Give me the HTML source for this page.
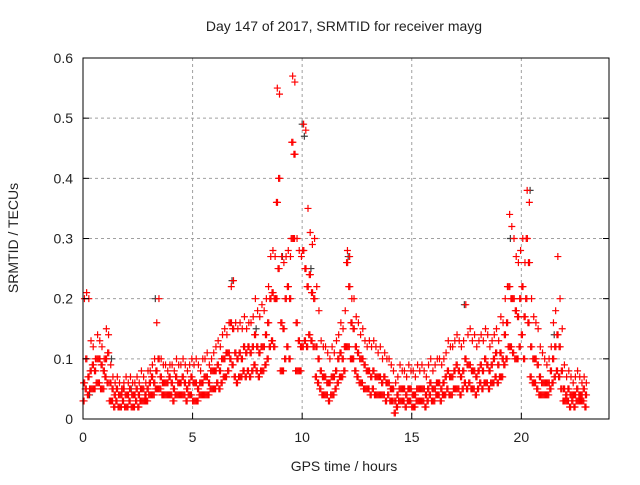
<!DOCTYPE html>
<html><head><meta charset="utf-8"><style>
body{margin:0;background:#fff}
svg text{font-family:"Liberation Sans",sans-serif;font-size:14px;fill:#222}
</style></head><body>
<svg id="chart" width="640" height="480" viewBox="0 0 640 480" xmlns="http://www.w3.org/2000/svg">
<rect width="640" height="480" fill="#fff"/>
<text x="344" y="31" text-anchor="middle">Day 147 of 2017, SRMTID for receiver mayg</text>
<text transform="translate(18,238) rotate(-90)" text-anchor="middle">SRMTID / TECUs</text>
<text x="344" y="471" text-anchor="middle">GPS time / hours</text>
<g id="grid"></g><g id="gray"></g><g id="red"></g><g id="axes"></g>
</svg>
<script>
const xTicks=[0,5,10,15,20];
const yTicks=[0,0.1,0.2,0.3,0.4,0.5,0.6];
const yTickLabels=["0","0.1","0.2","0.3","0.4","0.5","0.6"];
const binStart=0, binStep=0.1;
const hiVals=[.2,.21,.2,.13,.12,.1,.14,.13,.12,.1,
.15,.14,.09,.07,.06,.07,.06,.05,.06,.07,
.06,.07,.06,.06,.07,.06,.08,.07,.06,.08,
.08,.09,.1,.16,.2,.1,.09,.09,.08,.09,
.09,.08,.1,.09,.09,.1,.09,.08,.09,.1,
.09,.1,.09,.08,.1,.1,.11,.09,.1,.11,
.12,.13,.12,.14,.15,.14,.16,.22,.23,.16,
.15,.16,.15,.17,.15,.16,.16,.17,.2,.18,
.17,.19,.18,.2,.22,.27,.28,.27,.55,.54,
.27,.26,.27,.28,.27,.57,.56,.3,.28,.27,
.49,.48,.35,.31,.29,.3,.22,.18,.13,.12,
.12,.11,.1,.12,.11,.13,.14,.16,.15,.18,
.28,.27,.2,.2,.17,.16,.14,.15,.13,.12,
.13,.12,.13,.12,.11,.12,.1,.11,.1,.1,
.09,.08,.06,.07,.09,.08,.08,.07,.09,.08,
.08,.07,.09,.08,.09,.08,.07,.09,.1,.08,
.09,.1,.1,.09,.1,.11,.13,.12,.12,.13,
.14,.13,.12,.13,.19,.14,.15,.13,.14,.12,
.13,.14,.13,.15,.14,.12,.13,.14,.15,.13,
.17,.16,.2,.22,.34,.32,.3,.27,.26,.28,
.3,.26,.38,.36,.2,.17,.16,.15,.12,.11,
.1,.09,.1,.12,.16,.18,.27,.2,.15,.09,
.07,.08,.07,.06,.07,.08,.07,.06,.07,.06];
const midVals=[.06,.1,.07,.08,.09,.08,.1,.1,.09,.08,
.1,.11,.06,.05,.04,.05,.04,.04,.05,.04,
.04,.05,.04,.04,.05,.04,.05,.05,.04,.05,
.06,.07,.06,.08,.1,.07,.06,.06,.06,.07,
.06,.05,.07,.06,.06,.07,.06,.05,.06,.07,
.06,.06,.05,.06,.06,.07,.07,.06,.08,.08,
.08,.09,.08,.1,.1,.11,.11,.16,.15,.11,
.1,.11,.1,.12,.11,.12,.11,.12,.14,.12,
.11,.12,.12,.14,.16,.2,.21,.2,.36,.4,
.16,.15,.2,.22,.2,.46,.44,.16,.13,.12,
.28,.25,.22,.24,.21,.2,.12,.1,.08,.07,
.07,.06,.06,.07,.07,.08,.1,.11,.1,.12,
.26,.22,.16,.15,.12,.11,.1,.1,.09,.08,
.08,.07,.08,.07,.07,.07,.06,.07,.06,.06,
.05,.05,.03,.04,.05,.05,.05,.04,.05,.05,
.04,.04,.05,.05,.05,.05,.04,.05,.06,.05,
.05,.06,.06,.05,.06,.07,.08,.07,.07,.08,
.09,.08,.07,.08,.1,.09,.09,.08,.08,.07,
.08,.09,.08,.1,.09,.08,.09,.1,.11,.09,
.11,.1,.14,.16,.22,.2,.2,.18,.17,.2,
.22,.17,.3,.26,.12,.1,.1,.09,.07,.06,
.06,.06,.06,.08,.1,.12,.14,.12,.08,.05,
.04,.05,.04,.04,.04,.05,.04,.04,.05,.04];
const lowVals=[.03,.05,.04,.05,.05,.05,.06,.06,.05,.05,
.07,.06,.03,.03,.02,.03,.02,.02,.03,.02,
.02,.03,.02,.02,.03,.02,.03,.03,.03,.03,
.04,.04,.04,.05,.05,.05,.04,.04,.04,.04,
.04,.03,.04,.04,.04,.04,.04,.03,.04,.04,
.03,.03,.03,.04,.04,.04,.04,.04,.05,.05,
.05,.06,.05,.06,.07,.07,.08,.1,.09,.07,
.06,.07,.07,.08,.07,.08,.07,.08,.09,.08,
.07,.08,.08,.09,.1,.12,.13,.12,.2,.25,
.08,.08,.1,.12,.1,.3,.3,.08,.08,.08,
.12,.13,.12,.14,.13,.12,.07,.06,.05,.04,
.04,.04,.03,.04,.04,.05,.06,.07,.07,.08,
.12,.12,.1,.1,.08,.07,.06,.06,.05,.05,
.05,.04,.05,.04,.04,.04,.04,.04,.03,.04,
.03,.03,.01,.02,.03,.03,.03,.02,.03,.03,
.02,.02,.03,.03,.03,.03,.02,.03,.04,.03,
.03,.04,.04,.03,.04,.04,.05,.04,.04,.05,
.05,.05,.04,.05,.06,.05,.06,.05,.05,.04,
.05,.06,.05,.06,.06,.05,.06,.06,.07,.06,
.07,.07,.09,.1,.12,.12,.11,.1,.1,.12,
.14,.1,.2,.16,.07,.06,.06,.05,.04,.04,
.04,.04,.04,.05,.06,.07,.08,.07,.05,.03,
.03,.03,.02,.03,.02,.03,.03,.03,.03,.02];
const grayTimes=[0.3,1.3,2.2,3.3,6.8,7.9,9.1,10.0,10.1,10.4,12.1,17.4,19.5,20.4,21.5];
const grayVals=[0.04,0.1,0.05,0.2,0.23,0.15,0.27,0.49,0.47,0.25,0.27,0.19,0.3,0.38,0.14];

const L=83,R=609,T=58,B=419;
const xs=t=>L+(t/24)*(R-L);
const ys=v=>B-(v/0.6)*(B-T);
const NS="http://www.w3.org/2000/svg";
function mk(tag,parent){const e=document.createElementNS(NS,tag);parent.appendChild(e);return e;}
const grid=document.getElementById('grid'),axes=document.getElementById('axes');
xTicks.forEach(t=>{
  const x=xs(t);
  if(t>0){const g=mk('line',grid);
  
  
  g.setAttribute('x1',x);g.setAttribute('x2',x);g.setAttribute('y1',T);g.setAttribute('y2',B);
  g.setAttribute('stroke','#a0a0a0');g.setAttribute('stroke-dasharray','3,3');}
  const tk=mk('line',axes);tk.setAttribute('x1',x);tk.setAttribute('x2',x);tk.setAttribute('y1',B);tk.setAttribute('y2',B-6);tk.setAttribute('stroke','#000');
  const lb=mk('text',axes);
  
  
  lb.setAttribute('x',x);lb.setAttribute('y',B+23);lb.setAttribute('text-anchor','middle');lb.textContent=t;
});
yTicks.forEach((v,i)=>{
  const y=ys(v);
  if(v>0&&v<0.6){const g=mk('line',grid);
  
  
  g.setAttribute('x1',L);g.setAttribute('x2',R);g.setAttribute('y1',y);g.setAttribute('y2',y);
  g.setAttribute('stroke','#a0a0a0');g.setAttribute('stroke-dasharray','3,3');}
  const tk=mk('line',axes);tk.setAttribute('x1',L);tk.setAttribute('x2',L+6);tk.setAttribute('y1',y);tk.setAttribute('y2',y);tk.setAttribute('stroke','#000');
  const tk2=mk('line',axes);tk2.setAttribute('x1',R);tk2.setAttribute('x2',R-6);tk2.setAttribute('y1',y);tk2.setAttribute('y2',y);tk2.setAttribute('stroke','#000');
  const lb=mk('text',axes);
  
  
  lb.setAttribute('x',L-10);lb.setAttribute('y',y+5);lb.setAttribute('text-anchor','end');lb.textContent=yTickLabels[i];
});
const frame=mk('rect',axes);


frame.setAttribute('x',L);frame.setAttribute('y',T);frame.setAttribute('width',R-L);frame.setAttribute('height',B-T);
frame.setAttribute('fill','none');frame.setAttribute('stroke','#000');
function plus(parent,t,v,color){
  const x=xs(t),y=ys(v);
  const p=mk('path',parent);
  
  
  p.setAttribute('d',`M${x-3.5},${y}H${x+3.5}M${x},${y-3.5}V${y+3.5}`);
  p.setAttribute('stroke',color);p.setAttribute('stroke-width','1.2');
}
const gray=document.getElementById('gray'),red=document.getElementById('red');
grayTimes.forEach((t,i)=>plus(gray,t,grayVals[i],'#404040'));
hiVals.forEach((v,i)=>{
  const t=binStart+i*binStep;
  plus(red,t,lowVals[i],'#ff0000');
  plus(red,t+0.05,lowVals[i],'#ff0000');
  plus(red,t+0.025,midVals[i],'#ff0000');
  plus(red,t+0.075,midVals[i],'#ff0000');
  plus(red,t+0.066,v,'#ff0000');
});
</script>
</body></html>
